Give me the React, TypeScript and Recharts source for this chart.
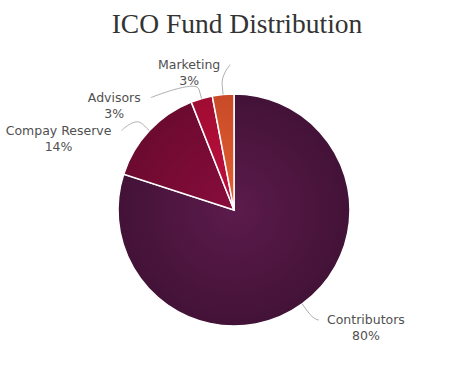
import { PieChart, Pie, Cell } from 'recharts';

const names = ['Contributors', 'Compay Reserve', 'Advisors', 'Marketing'];
const shares = [80, 14, 3, 3];
const baseColors = ['#5c1b4c', '#880c3c', '#c2103e', '#e3602f'];
const edgeColors = ['#431237', '#6c0a2f', '#a00c33', '#c84a28'];

const data = names.map((name, i) => ({ name, value: shares[i] }));

const W = 459;
const H = 382;
const CX = 234;
const CY = 210;
const RADIUS = 116;
const LABEL_DIST = 30;
const LINE_GAP = 33;
const LABEL_FONT = '12.5px "DejaVu Sans", Verdana, sans-serif';

function textWidth(s: string) {
    const c = document.createElement('canvas').getContext('2d');
    if (!c) return s.length * 7;
    c.font = LABEL_FONT;
    return c.measureText(s).width;
}

// work out label spots the way highcharts does: on a circle outside the pie,
// pushed apart vertically per side so they don't overlap
function layoutLabels(cx: number, cy: number, r: number) {
    const total = shares.reduce((a, b) => a + b, 0);
    const R = r + LABEL_DIST;
    let acc = 0;
    const items = shares.map((v, i) => {
        const mid = 90 - ((acc + v / 2) / total) * 360;
        acc += v;
        const rad = (mid * Math.PI) / 180;
        return { i, mid, side: Math.cos(rad) >= 0 ? 1 : -1, y: cy - R * Math.sin(rad), x: 0 };
    });
    [1, -1].forEach((side) => {
        const list = items.filter((it) => it.side === side).sort((a, b) => a.y - b.y);
        for (let k = 1; k < list.length; k++) {
            if (list[k].y < list[k - 1].y + LINE_GAP) list[k].y = list[k - 1].y + LINE_GAP;
        }
    });
    items.forEach((it) => {
        it.y = Math.min(it.y, H - 62);
        const dy = it.y - cy;
        it.x = cx + it.side * Math.sqrt(Math.max(0, R * R - dy * dy));
    });
    return items;
}

const renderLabel = (props: any) => {
    const { cx, cy, outerRadius, index, midAngle, name, percent } = props;
    const spot = layoutLabels(cx, cy, outerRadius)[index];
    const rad = (midAngle * Math.PI) / 180;
    const touch = { x: cx + outerRadius * Math.cos(rad), y: cy - outerRadius * Math.sin(rad) };
    const brk = { x: cx + (outerRadius + 10) * Math.cos(rad), y: cy - (outerRadius + 10) * Math.sin(rad) };
    const sx = spot.side > 0 ? spot.x - 11 : spot.x + 10;
    const tx = spot.side > 0 ? spot.x - 3 : spot.x;
    const pct = `${Math.round(percent * 100)}%`;
    const w = Math.max(textWidth(name), textWidth(pct));
    const mx = spot.side > 0 ? tx + w / 2 : tx - w / 2;
    const d = `M ${sx} ${spot.y} C ${sx} ${spot.y} ${2 * brk.x - touch.x} ${2 * brk.y - touch.y} ${brk.x} ${brk.y} L ${touch.x} ${touch.y}`;
    return (
        <g>
            <path d={d} fill="none" stroke="#b0b0b0" strokeWidth={1} />
            <text x={mx} y={spot.y + 4} textAnchor="middle" fill="#505050" style={{ font: LABEL_FONT }}>
                {name}
            </text>
            <text x={mx} y={spot.y + 20} textAnchor="middle" fill="#505050" style={{ font: LABEL_FONT }}>
                {pct}
            </text>
        </g>
    );
};

export default function App() {
    return (
        <div style={{ position: 'absolute', left: 0, top: 0, width: W, height: H, background: '#fff' }}>
            <PieChart width={W} height={H} margin={{ top: 0, right: 0, bottom: 0, left: 0 }}>
                <defs>
                    {baseColors.map((c, i) => (
                        <radialGradient
                            key={`g-${i}`}
                            id={`grad-${i}`}
                            gradientUnits="userSpaceOnUse"
                            cx={CX}
                            cy={CY}
                            r={RADIUS}
                        >
                            <stop offset="0%" stopColor={c} />
                            <stop offset="100%" stopColor={edgeColors[i]} />
                        </radialGradient>
                    ))}
                </defs>
                <text
                    x={237}
                    y={33}
                    textAnchor="middle"
                    fill="#333"
                    style={{ fontFamily: '"Liberation Serif", "Times New Roman", serif', fontSize: 27.5 }}
                >
                    ICO Fund Distribution
                </text>
                <Pie
                    data={data}
                    dataKey="value"
                    nameKey="name"
                    cx={CX}
                    cy={CY}
                    outerRadius={RADIUS}
                    startAngle={90}
                    endAngle={-270}
                    stroke="#fff"
                    strokeWidth={1.5}
                    labelLine={false}
                    label={renderLabel}
                    isAnimationActive={false}
                >
                    {data.map((entry, index) => (
                        <Cell key={`cell-${index}`} fill={`url(#grad-${index})`} />
                    ))}
                </Pie>
            </PieChart>
        </div>
    );
}
